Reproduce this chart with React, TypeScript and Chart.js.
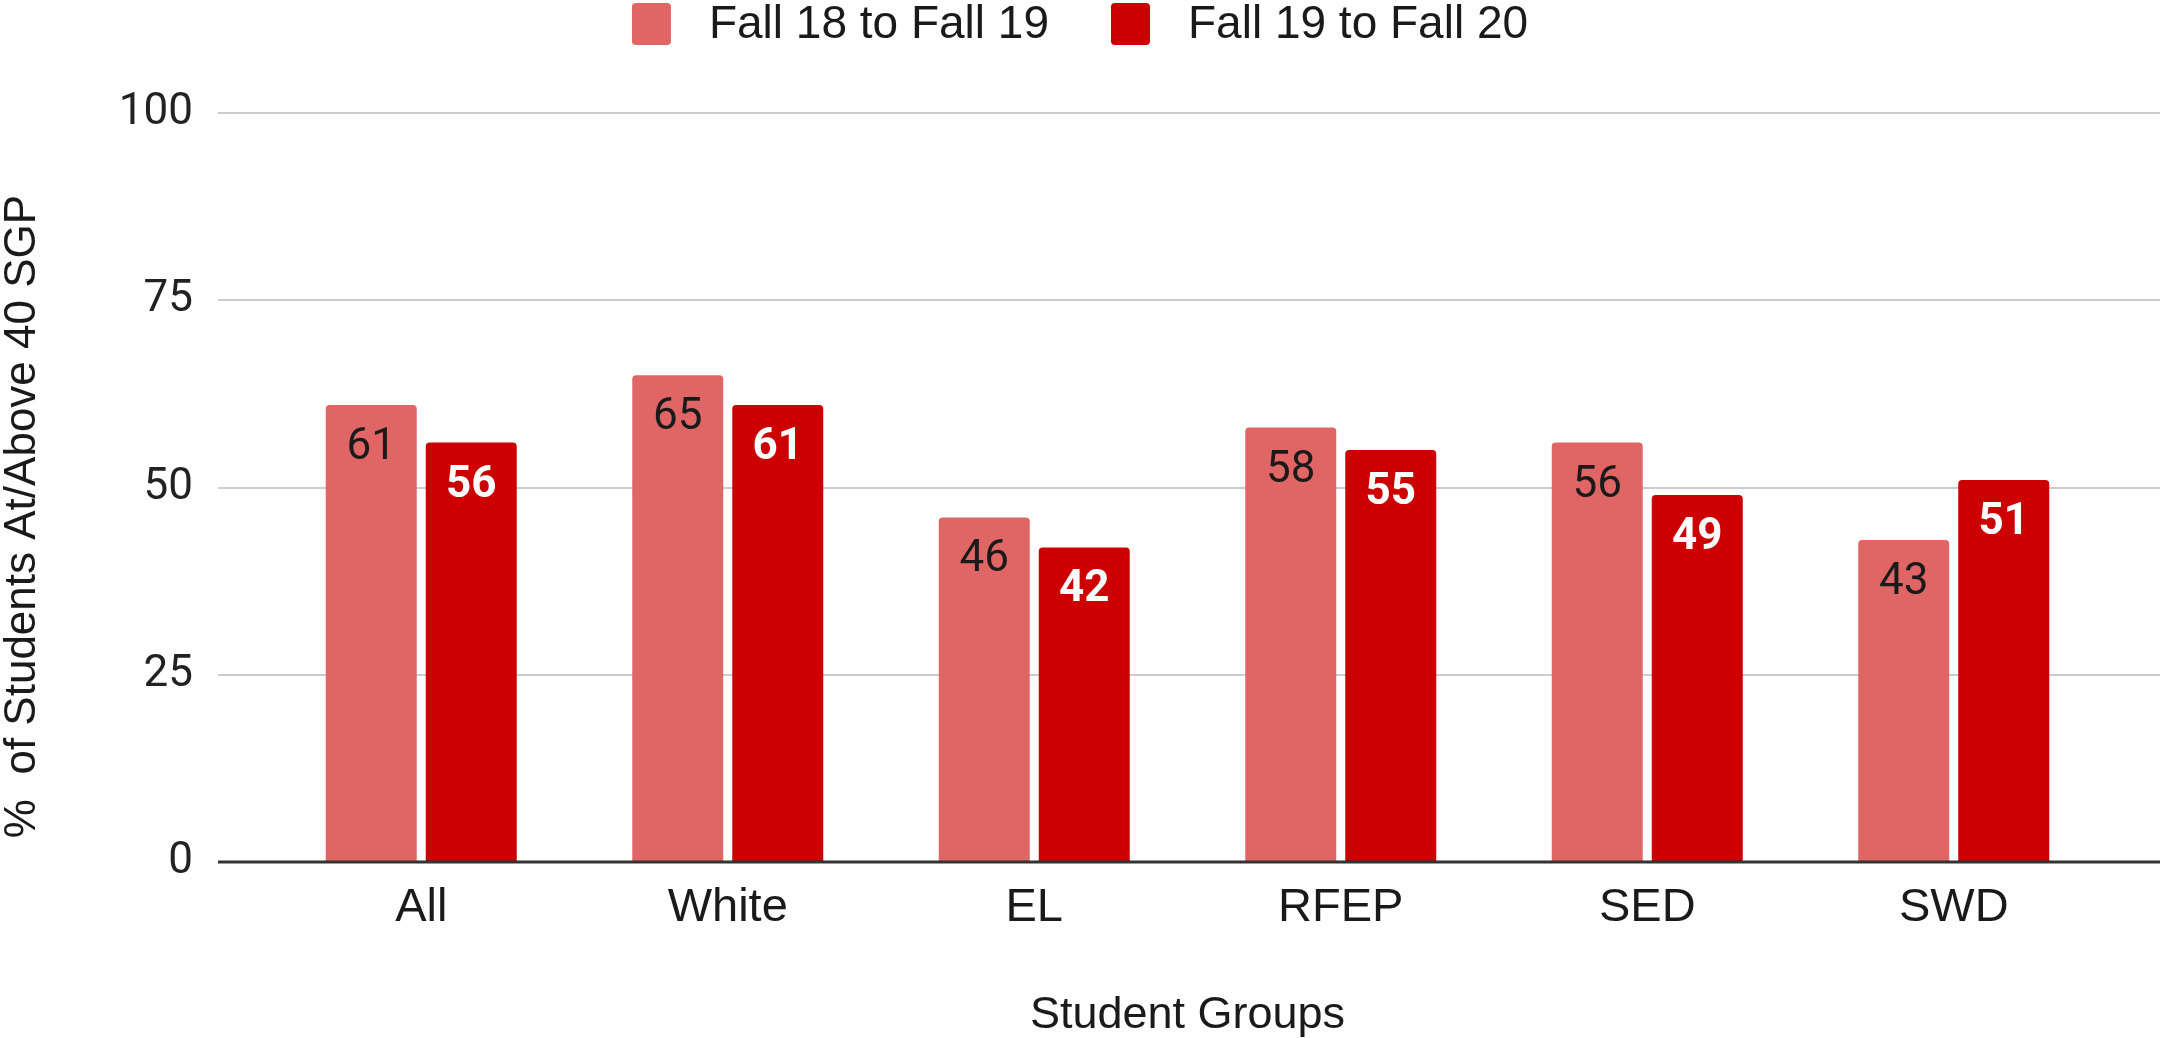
import React, { useEffect, useRef } from "react";
import { Chart, registerables } from "chart.js";

Chart.register(...registerables);

const categories = ["All", "White", "EL", "RFEP", "SED", "SWD"];
const seriesNames = ["Fall 18 to Fall 19", "Fall 19 to Fall 20"];
const fall18to19 = [61, 65, 46, 58, 56, 43];
const fall19to20 = [56, 61, 42, 55, 49, 51];
const yTicks = [0, 25, 50, 75, 100];
const yTitle = "%  of Students At/Above 40 SGP";
const xTitle = "Student Groups";

const COLORS = ["#E06666", "#CC0000"];
const LABEL_COLORS = ["#1a1a1a", "#ffffff"];
const LABEL_WEIGHTS = ["normal", "bold"];
const SANS = "Arial, 'Liberation Sans', sans-serif";
const ROBOTO = "Roboto, Arial, sans-serif";

const gridPlugin = {
  id: "extGrid",
  beforeDatasetsDraw(chart: any) {
    const { ctx, chartArea, scales } = chart;
    const y = scales.y;
    ctx.save();
    ctx.strokeStyle = "#cccccc";
    ctx.lineWidth = 2;
    for (const v of yTicks) {
      if (v === 0) continue;
      const py = Math.round(y.getPixelForValue(v));
      ctx.beginPath();
      ctx.moveTo(chartArea.left - 50, py);
      ctx.lineTo(chart.width, py);
      ctx.stroke();
    }
    ctx.restore();
  },
  afterDatasetsDraw(chart: any) {
    const { ctx, chartArea, scales } = chart;
    const y = scales.y;
    ctx.save();
    const py0 = y.getPixelForValue(0);
    ctx.strokeStyle = "#333333";
    ctx.lineWidth = 3;
    ctx.beginPath();
    ctx.moveTo(chartArea.left - 50, py0);
    ctx.lineTo(chart.width, py0);
    ctx.stroke();
    ctx.textAlign = "center";
    ctx.textBaseline = "middle";
    chart.data.datasets.forEach((ds: any, di: number) => {
      const meta = chart.getDatasetMeta(di);
      ctx.fillStyle = LABEL_COLORS[di];
      ctx.font = `${LABEL_WEIGHTS[di]} 44px ${ROBOTO}`;
      meta.data.forEach((el: any, i: number) => {
        ctx.fillText(String(ds.data[i]), el.x, el.y + 43);
      });
    });
    ctx.restore();
  },
  afterDraw(chart: any) {
    const { ctx, chartArea } = chart;
    ctx.save();
    // y axis title
    ctx.font = `44px ${SANS}`;
    ctx.fillStyle = "#1a1a1a";
    ctx.textAlign = "center";
    ctx.textBaseline = "middle";
    ctx.translate(23, (chartArea.top + chartArea.bottom) / 2 + 29);
    ctx.rotate(-Math.PI / 2);
    ctx.fillText(yTitle, 0, 0);
    ctx.restore();

    // legend
    ctx.save();
    ctx.font = `46px ${SANS}`;
    ctx.textBaseline = "middle";
    ctx.textAlign = "left";
    const sw = 39, sh = 42, gapText = 38, gapItem = 62;
    const widths = seriesNames.map((n) => ctx.measureText(n).width);
    const total = widths.reduce((a, w) => a + sw + gapText + w, 0) + gapItem * (seriesNames.length - 1);
    let x = chart.width / 2 - total / 2;
    const cy = 24;
    seriesNames.forEach((n, i) => {
      ctx.fillStyle = COLORS[i];
      ctx.beginPath();
      (ctx as any).roundRect(x, cy - sh / 2, sw, sh, 4);
      ctx.fill();
      ctx.fillStyle = "#1a1a1a";
      ctx.fillText(n, x + sw + gapText, cy + 1);
      x += sw + gapText + widths[i] + gapItem;
    });
    ctx.restore();
  },
};

export default function App() {
  const ref = useRef<HTMLCanvasElement | null>(null);
  useEffect(() => {
    document.body.style.margin = "0";
    const canvas = ref.current!;
    const chart = new Chart(canvas, {
      type: "bar",
      data: {
        labels: categories,
        datasets: [
          {
            label: seriesNames[0],
            data: fall18to19,
            backgroundColor: COLORS[0],
            borderRadius: { topLeft: 4, topRight: 4, bottomLeft: 0, bottomRight: 0 },
            borderSkipped: "bottom",
            barPercentage: 0.91,
            categoryPercentage: 0.6525,
          },
          {
            label: seriesNames[1],
            data: fall19to20,
            backgroundColor: COLORS[1],
            borderRadius: { topLeft: 4, topRight: 4, bottomLeft: 0, bottomRight: 0 },
            borderSkipped: "bottom",
            barPercentage: 0.91,
            categoryPercentage: 0.6525,
          },
        ],
      },
      options: {
        animation: false,
        responsive: false,
        maintainAspectRatio: false,
        devicePixelRatio: 1,
        layout: { padding: { top: 113, right: 53, bottom: 0, left: 0 } },
        plugins: {
          legend: { display: false },
          tooltip: { enabled: false },
        },
        scales: {
          x: {
            grid: { display: false, drawTicks: false },
            border: { display: false },
            ticks: {
              color: "#1a1a1a",
              font: { family: SANS, size: 47 },
              padding: 18,
              autoSkip: false,
              maxRotation: 0,
            },
            title: {
              display: true,
              text: xTitle,
              color: "#1a1a1a",
              font: { family: SANS, size: 45, lineHeight: 1 },
              padding: { top: 0, bottom: 0 },
            },
            afterFit(scale: any) {
              scale.height = 176;
            },
          },
          y: {
            min: 0,
            max: 100,
            grid: { display: false, drawTicks: false },
            border: { display: false },
            ticks: {
              stepSize: 25,
              color: "#222222",
              font: { family: ROBOTO, size: 44 },
              padding: 75,
            },
            title: { display: false },
            afterFit(scale: any) {
              scale.width = 268;
            },
          },
        },
      },
      plugins: [gridPlugin],
    });
    return () => chart.destroy();
  }, []);
  return <canvas ref={ref} width={2160} height={1038} style={{ display: "block" }} />;
}
